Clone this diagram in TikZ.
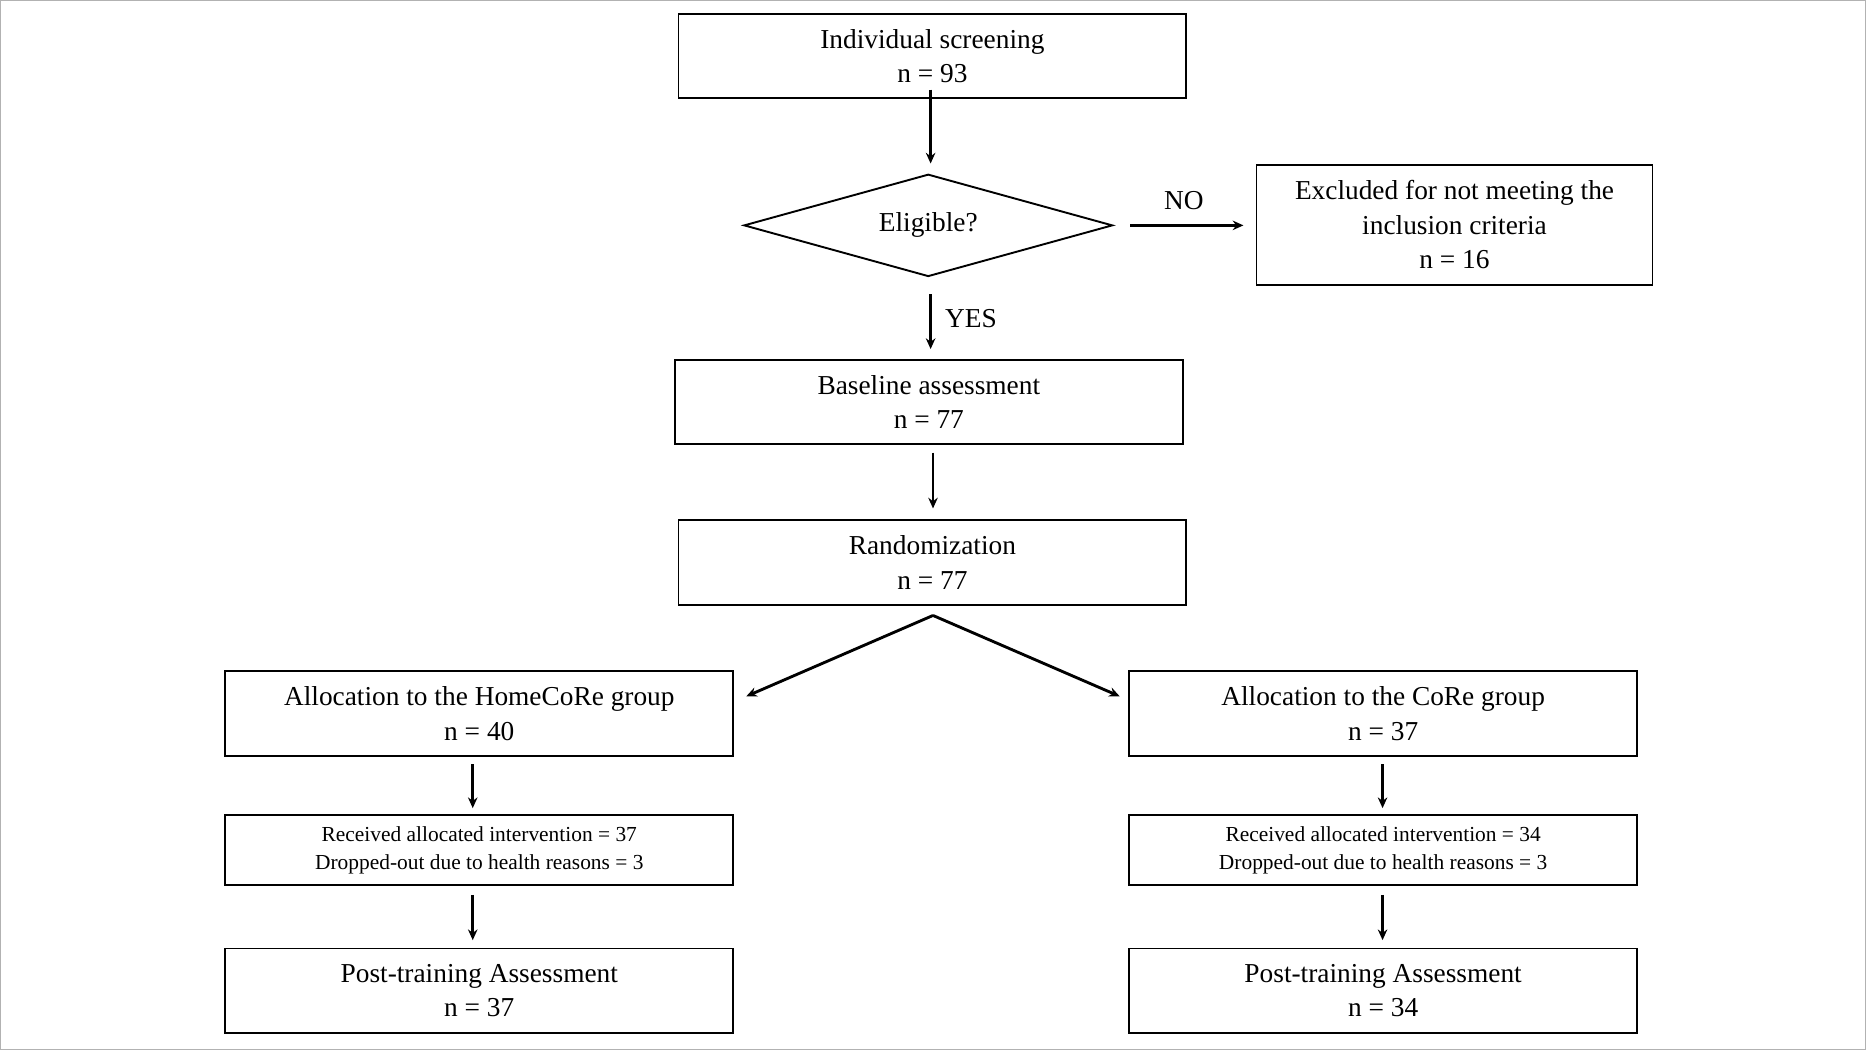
\documentclass[tikz,border=0pt]{standalone}
\usepackage{fontspec}
\setmainfont{Liberation Serif}
\usetikzlibrary{shapes.geometric,arrows.meta}
\begin{document}
\begin{tikzpicture}[x=1pt,y=-1pt,
  box/.style={draw,line width=1.6pt,inner sep=0pt,align=center,font=\fontsize{23}{29}\selectfont},
  sbox/.style={draw,line width=1.6pt,inner sep=0pt,align=center,font=\fontsize{18}{24}\selectfont},
  arr/.style={line width=2.4pt,-{Stealth[length=9pt,width=8pt]}},
  lab/.style={font=\fontsize{23}{28}\selectfont}]
\draw[gray!60,line width=1pt] (0,0) rectangle (1568,882);
\useasboundingbox (0,0) rectangle (1568,882);
\node[box,minimum width=427pt,minimum height=71pt] (scr) at (783.5,46.5) {Individual screening\\n = 93};
\node[draw,line width=1.6pt,diamond,aspect=3.6,minimum width=310pt,minimum height=86pt,inner sep=0pt,font=\fontsize{23}{28}\selectfont] (el) at (780,189) {Eligible?};
\node[box,minimum width=333pt,minimum height=101pt] (exc) at (1222.5,188.5) {Excluded for not meeting the\\inclusion criteria\\n = 16};
\node[box,minimum width=427pt,minimum height=71pt] (base) at (780.5,337.5) {Baseline assessment\\n = 77};
\node[box,minimum width=427pt,minimum height=71pt] (rand) at (783.5,472.5) {Randomization\\n = 77};
\node[box,minimum width=427pt,minimum height=71pt] (hg) at (402.5,599.5) {Allocation to the HomeCoRe group\\n = 40};
\node[box,minimum width=427pt,minimum height=71pt] (cg) at (1162.5,599.5) {Allocation to the CoRe group\\n = 37};
\node[sbox,minimum width=427pt,minimum height=59pt] (hr) at (402.5,714.5) {Received allocated intervention = 37\\Dropped-out due to health reasons = 3};
\node[sbox,minimum width=427pt,minimum height=59pt] (cr) at (1162.5,714.5) {Received allocated intervention = 34\\Dropped-out due to health reasons = 3};
\node[box,minimum width=427pt,minimum height=71pt] (hp) at (402.5,832.5) {Post-training Assessment\\n = 37};
\node[box,minimum width=427pt,minimum height=71pt] (cp) at (1162.5,832.5) {Post-training Assessment\\n = 34};
\coordinate (rs) at (784,517);
\coordinate (hl) at (627,585);
\coordinate (cl) at (941,585);
\draw[arr] ([yshift=8pt]scr.south -| 782,0) -- (782,137);
\draw[arr] (950,189) -- (1045,189);
\node[lab] (no) at (995,168) {NO};
\draw[arr] (782,247) -- (782,293);
\node[lab] (yes) at (816,267) {YES};
\draw[arr] (784,380) -- (784,427);
\draw[arr] (rs) -- (hl);
\draw[arr] (rs) -- (cl);
\draw[arr] (397,642) -- (397,679);
\draw[arr] (1162,642) -- (1162,679);
\draw[arr] (397,752) -- (397,790);
\draw[arr] (1162,752) -- (1162,790);
\end{tikzpicture}
\end{document}
